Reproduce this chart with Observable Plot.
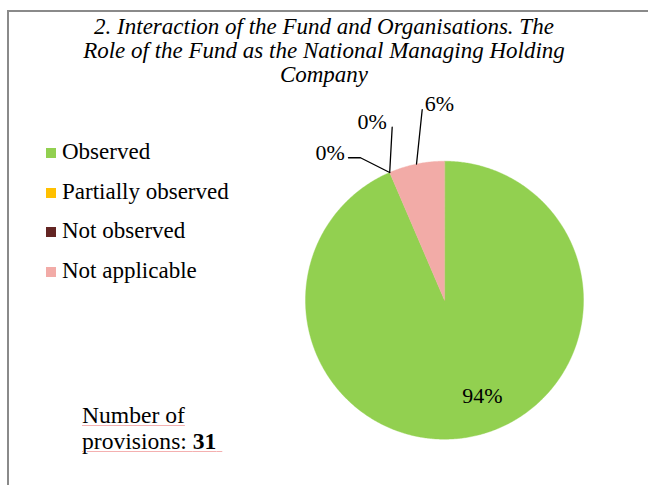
<!DOCTYPE html>
<html>
<head>
<meta charset="utf-8">
<script src="https://cdn.jsdelivr.net/npm/d3@7"></script>
<script src="https://cdn.jsdelivr.net/npm/@observablehq/plot@0.6"></script>
<style>
  html, body { margin: 0; padding: 0; background: #fff; }
  body { width: 648px; height: 485px; position: relative; overflow: hidden; font-family: "Liberation Serif", serif; color: #000; }
  #frame { position: absolute; left: 7px; top: 10px; width: 700px; height: 520px; border-left: 2px solid #8a8a8a; border-top: 2px solid #8a8a8a; }
  #title { position: absolute; left: 0; top: 15px; width: 648px; text-align: center; font-style: italic; font-size: 23px; line-height: 24px; }
  #legend { position: absolute; left: 46px; top: 132px; }
  .row { position: relative; height: 39.6px; line-height: 39.6px; font-size: 23px; white-space: nowrap; }
  .sw { position: absolute; left: 0; top: 16px; width: 10px; height: 10px; }
  .lt { position: absolute; left: 16px; top: 0; }
  #caption { position: absolute; left: 82px; top: 402px; font-size: 23.6px; line-height: 26px; }
  #caption .u { text-decoration: underline; text-decoration-color: #f4b0b0; text-decoration-thickness: 1px; text-underline-offset: 2px; }
  #pie { position: absolute; left: 279px; top: 85px; }
</style>
</head>
<body>
<div id="frame"></div>
<div id="title"></div>
<div id="legend"></div>
<div id="caption"><span class="u">Number of</span><br><span class="u">provisions: <b>31</b>&nbsp;</span></div>
<div id="pie"></div>
<script>
// ---- data ----
const titleLines = [
  "2. Interaction of the Fund and Organisations. The",
  "Role of the Fund as the National Managing Holding",
  "Company"
];
const categories = ["Observed", "Partially observed", "Not observed", "Not applicable"];
const counts = [29, 0, 0, 2];
const colors = ["#92D050", "#FFC000", "#632523", "#F2ABA7"];

// ---- layout (pixels) ----
const W = 330, H = 370;          // svg size
const PL = 279, PT = 85;         // svg position on page
const CX = 444 - PL, CY = 299.7 - PT, R = 139;
// label placement: offsets in px from the slice anchor
const labelLayout = {
  "Observed":           { inside: true, r: 0.7, label: [18.4, 0] },
  "Partially observed": { leader: [[-29.2, -14.7], [-41.2, -14.7]], label: [-59.5, -20] },
  "Not observed":       { leader: [[2.5, -45.3]], label: [-17.5, -51] },
  "Not applicable":     { leader: [[5.7, -54.5]], label: [23, -60.5] }
};

// ---- title, legend ----
document.getElementById("title").innerHTML = titleLines.join("<br>");
const legend = d3.select("#legend");
categories.forEach((c, i) => {
  const row = legend.append("div").attr("class", "row");
  row.append("div").attr("class", "sw").style("background", colors[i]);
  row.append("div").attr("class", "lt").text(c);
});

// ---- pie geometry from data ----
const total = d3.sum(counts);
const arcs = d3.pie().sort(null).value(d => d)(counts);
const slices = arcs.map((a, i) => ({
  cat: categories[i],
  value: counts[i],
  start: a.startAngle,
  end: a.endAngle,
  mid: (a.startAngle + a.endAngle) / 2,
  pct: Math.round(counts[i] / total * 100) + "%"
}));

const poly = [];
for (const s of slices) {
  if (s.value <= 0) continue;
  const n = Math.max(2, Math.ceil((s.end - s.start) / (Math.PI / 360)));
  poly.push({cat: s.cat, x: 0, y: 0});
  for (let k = 0; k <= n; k++) {
    const a = s.start + (s.end - s.start) * k / n;
    poly.push({cat: s.cat, x: Math.sin(a), y: Math.cos(a)});
  }
}

const leaders = [];
const labels = [];
for (const s of slices) {
  const L = labelLayout[s.cat];
  const r = L.inside ? L.r : 1;
  const ax = r * Math.sin(s.mid), ay = r * Math.cos(s.mid);
  if (L.leader) {
    leaders.push({cat: s.cat, x: ax, y: ay});
    for (const [dx, dy] of L.leader) leaders.push({cat: s.cat, x: ax + dx / R, y: ay - dy / R});
  }
  labels.push({cat: s.cat, text: s.pct, x: ax + L.label[0] / R, y: ay - L.label[1] / R});
}

const chart = Plot.plot({
  width: W,
  height: H,
  margin: 0,
  x: {domain: [-CX / R, (W - CX) / R], axis: null},
  y: {domain: [-(H - CY) / R, CY / R], axis: null},
  color: {domain: categories, range: colors},
  style: {fontFamily: "'Liberation Serif', serif", background: "transparent", overflow: "visible"},
  marks: [
    Plot.line(poly, {x: "x", y: "y", z: "cat", fill: "cat", stroke: "cat", strokeWidth: 0.4, curve: "linear-closed"}),
    Plot.line(leaders, {x: "x", y: "y", z: "cat", stroke: "#000", strokeWidth: 1.3}),
    Plot.text(labels, {x: "x", y: "y", text: "text", fontSize: 22, fill: "#000"})
  ]
});
document.getElementById("pie").appendChild(chart);
</script>
</body>
</html>
